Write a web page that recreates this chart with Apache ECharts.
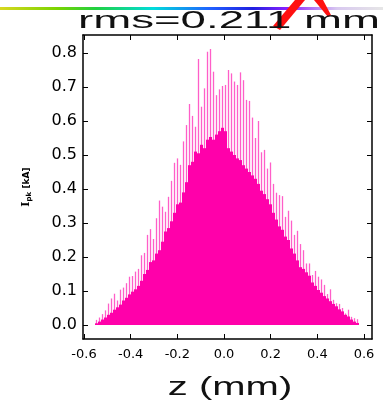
<!DOCTYPE html>
<html><head><meta charset="utf-8">
<script src="https://cdn.jsdelivr.net/npm/echarts@6/dist/echarts.min.js"></script>
<style>html,body{margin:0;padding:0;background:#fff}#c{width:383px;height:401px}</style>
</head><body><div id="c"></div>
<script>
// histogram bins (z in mm)
const binStart = -0.5464;
const binWidth = 0.012857;
// peak (spike) current per bin, kA
const peakValues = [0.015,0.022,0.032,0.043,0.063,0.078,0.092,0.072,0.104,0.110,
 0.123,0.142,0.144,0.157,0.165,0.205,0.212,0.265,0.282,0.253,
 0.314,0.366,0.348,0.333,0.377,0.424,0.477,0.490,0.471,0.540,
 0.588,0.650,0.615,0.583,0.782,0.642,0.696,0.804,0.812,0.745,
 0.676,0.693,0.703,0.706,0.750,0.740,0.716,0.706,0.743,0.720,
 0.662,0.659,0.610,0.550,0.600,0.508,0.515,0.460,0.478,0.415,
 0.389,0.382,0.379,0.318,0.336,0.307,0.265,0.277,0.238,0.220,
 0.181,0.181,0.147,0.159,0.142,0.134,0.118,0.091,0.105,0.074,
 0.064,0.062,0.050,0.034,0.045,0.024,0.020,0.017];
// dense core level per bin, kA
const coreValues = [0.005,0.010,0.016,0.022,0.030,0.036,0.045,0.052,0.060,0.072,
 0.080,0.090,0.098,0.105,0.115,0.130,0.150,0.162,0.185,0.190,
 0.210,0.220,0.245,0.275,0.285,0.305,0.330,0.355,0.360,0.390,
 0.420,0.470,0.480,0.510,0.505,0.530,0.520,0.545,0.553,0.545,
 0.560,0.570,0.580,0.570,0.520,0.510,0.500,0.490,0.485,0.470,
 0.460,0.450,0.440,0.430,0.415,0.395,0.385,0.370,0.355,0.330,
 0.310,0.290,0.280,0.260,0.250,0.225,0.210,0.190,0.170,0.165,
 0.155,0.145,0.125,0.115,0.103,0.095,0.085,0.078,0.070,0.062,
 0.055,0.046,0.040,0.030,0.025,0.016,0.010,0.006];
const xTicks = [-0.6,-0.4,-0.2,0.0,0.2,0.4,0.6];
const yTicks = [0.0,0.1,0.2,0.3,0.4,0.5,0.6,0.7,0.8];
const titleText = 'rms=0.211 mm';
const xName = 'z (mm)';

const zCenters = peakValues.map((_, i) => +(binStart + i * binWidth).toFixed(5));
const peakData = zCenters.map((z, i) => [z, peakValues[i]]);
const coreData = zCenters.map((z, i) => [z, coreValues[i]]);

const X_MIN = -0.6043, X_MAX = 0.6343, Y_MIN = -0.0412, Y_MAX = 0.8529;
const lineStyle = {color: '#000', width: 1.5};
const font = 'DejaVu Sans';

function xAx(pos, show) {
  return {
    type: 'value', position: pos, min: X_MIN, max: X_MAX,
    axisLine: {show: true, onZero: false, lineStyle},
    axisTick: {show: true, inside: true, length: 5, customValues: xTicks, lineStyle: {color: '#000', width: 1}},
    axisLabel: {show: show, customValues: xTicks, margin: 9, fontFamily: font, fontSize: 13, color: '#000',
      formatter: v => v.toFixed(1)},
    splitLine: {show: false}
  };
}
function yAx(pos, show) {
  return {
    type: 'value', position: pos, min: Y_MIN, max: Y_MAX,
    axisLine: {show: true, onZero: false, lineStyle},
    axisTick: {show: true, inside: true, length: 5, customValues: yTicks, lineStyle: {color: '#000', width: 1}},
    axisLabel: {show: show, customValues: yTicks, margin: 6, fontFamily: font, fontSize: 16, color: '#000',
      formatter: v => v.toFixed(1)},
    splitLine: {show: false}
  };
}

const chart = echarts.init(document.getElementById('c'), null, {renderer: 'canvas'});
const yA = yAx('left', true);
yA.name = '{i|I}{s|pk} {u|[kA]}';
yA.nameLocation = 'middle';
yA.nameRotate = 90;
yA.nameGap = 50;
yA.nameTextStyle = {rich: {
  i: {fontFamily: 'DejaVu Serif', fontSize: 11, fontWeight: 'bold', color: '#000'},
  s: {fontFamily: font, fontSize: 7, fontWeight: 'bold', color: '#000', verticalAlign: 'bottom', padding: [6,0,0,0]},
  u: {fontFamily: font, fontSize: 9, fontWeight: 'bold', color: '#000'}
}};

chart.setOption({
  animation: false,
  backgroundColor: '#fff',
  grid: {left: 83, right: 11, top: 35, bottom: 62, containLabel: false},
  xAxis: [xAx('bottom', true), xAx('top', false)],
  yAxis: [yA, yAx('right', false)],
  series: [
    {type: 'bar', xAxisIndex: 1, yAxisIndex: 0, data: peakData, barWidth: 1.3,
     itemStyle: {color: '#ff5ec8'}, silent: true},
    {type: 'bar', xAxisIndex: 0, yAxisIndex: 0, data: coreData, barWidth: 3,
     itemStyle: {color: '#ff00aa'}, silent: true}
  ],
  graphic: [
    {type: 'rect', shape: {x: 0, y: 7, width: 383, height: 3}, z: 100,
     style: {fill: new echarts.graphic.LinearGradient(0, 0, 1, 0, [
       {offset: 0, color: '#d8d820'}, {offset: 0.15, color: '#7ad400'}, {offset: 0.25, color: '#20d040'},
       {offset: 0.4, color: '#00dcdc'}, {offset: 0.55, color: '#2060ff'}, {offset: 0.66, color: '#2020e0'},
       {offset: 0.75, color: '#8a20ff'}, {offset: 0.88, color: '#d8c8f0'}, {offset: 1, color: '#e6e6e6'}])}},
    {type: 'polygon', z: 101, shape: {points: [[273, 26], [280, 30], [305, 0], [295, 0]]}, style: {fill: '#ff1010'}},
    {type: 'polygon', z: 101, shape: {points: [[314, 0], [323, 0], [331, 15], [328, 17]]}, style: {fill: '#ff1010'}},
    {type: 'text', z: 102, x: 229, y: 21, scaleX: 1.9, originX: 0, originY: 0,
     style: {text: titleText, fontFamily: 'Liberation Sans', fontSize: 24, fill: '#111', align: 'center', verticalAlign: 'middle'}},
    {type: 'text', z: 102, x: 230, y: 388, scaleX: 1.6, originX: 0, originY: 0,
     style: {text: xName, fontFamily: 'Liberation Sans', fontSize: 25, fill: '#111', align: 'center', verticalAlign: 'middle'}}
  ]
});
</script></body></html>
